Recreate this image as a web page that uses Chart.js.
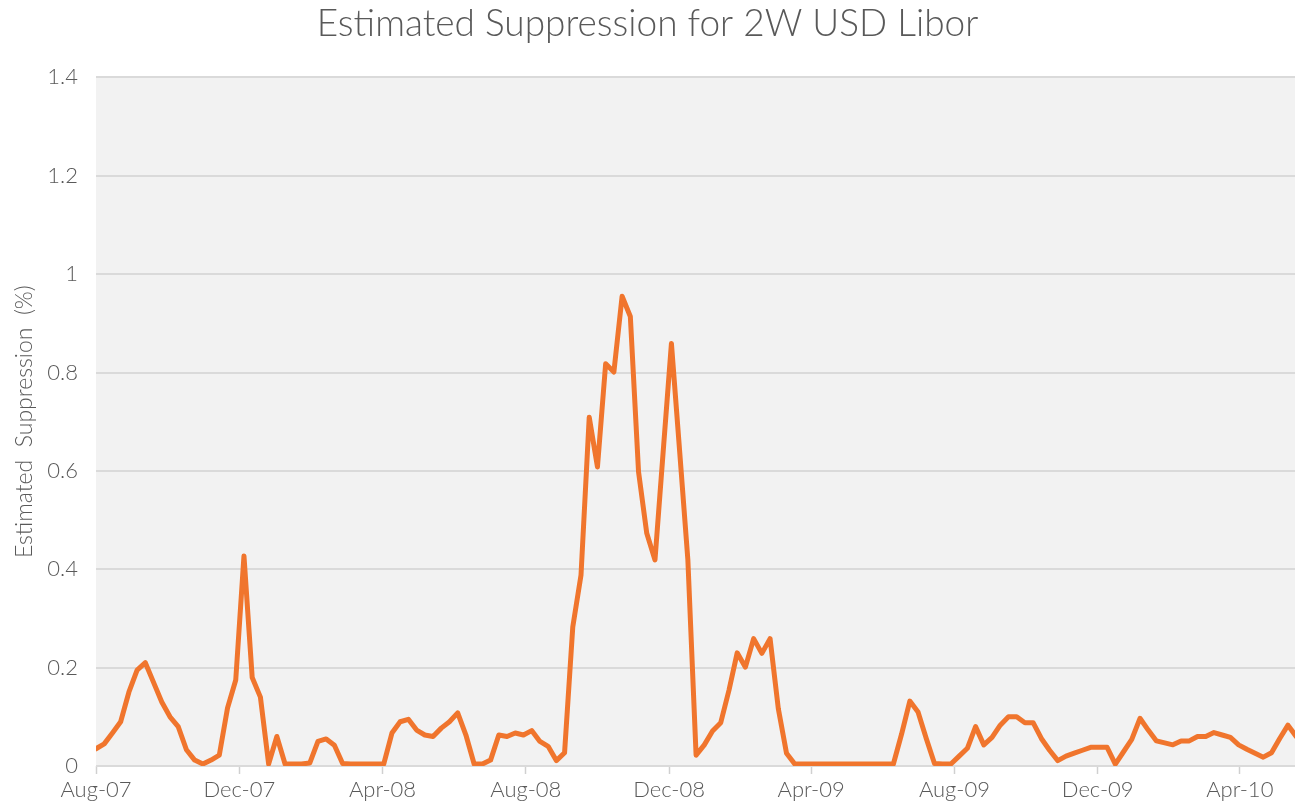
<!DOCTYPE html>
<html>
<head>
<meta charset="utf-8">
<title>Estimated Suppression for 2W USD Libor</title>
<script src="https://cdn.jsdelivr.net/npm/chart.js@4/dist/chart.umd.min.js"></script>
<style>
    html, body { margin: 0; padding: 0; background: #ffffff; }
    #chart { display: block; }
</style>
</head>
<body>
<canvas id="chart" width="1295" height="805"></canvas>
<script>
"use strict";

// Weekly estimates (%), first week starts Aug 1 2007
var startDate = [2007, 7, 1];
var daysPerPoint = 7;
var suppression = [
    0.035, 0.045, 0.067, 0.09, 0.15, 0.195, 0.21, 0.17, 0.13, 0.10,
    0.08, 0.033, 0.012, 0.004, 0.012, 0.022, 0.118, 0.175, 0.427, 0.18,
    0.14, 0.004, 0.06, 0.004, 0.004, 0.004, 0.006, 0.05, 0.055, 0.042,
    0.005, 0.004, 0.004, 0.004, 0.004, 0.004, 0.067, 0.09, 0.095, 0.073,
    0.063, 0.06, 0.077, 0.09, 0.108, 0.063, 0.004, 0.004, 0.012, 0.063,
    0.06, 0.067, 0.063, 0.072, 0.05, 0.04, 0.011, 0.027, 0.283, 0.388,
    0.709, 0.608, 0.818, 0.801, 0.955, 0.914, 0.598, 0.473, 0.419, 0.64,
    0.859, 0.64, 0.419, 0.022, 0.043, 0.071, 0.088, 0.154, 0.23, 0.201,
    0.259, 0.229, 0.259, 0.117, 0.026, 0.004, 0.004, 0.004, 0.004, 0.004,
    0.004, 0.004, 0.004, 0.004, 0.004, 0.004, 0.004, 0.004, 0.065, 0.132,
    0.11, 0.056, 0.005, 0.004, 0.004, 0.02, 0.036, 0.08, 0.043, 0.058,
    0.083, 0.1, 0.1, 0.088, 0.088, 0.056, 0.032, 0.011, 0.02, 0.026,
    0.032, 0.038, 0.038, 0.038, 0.004, 0.029, 0.054, 0.097, 0.073, 0.051,
    0.047, 0.043, 0.051, 0.051, 0.06, 0.06, 0.068, 0.063, 0.058, 0.043,
    0.034, 0.026, 0.018, 0.027, 0.056, 0.083, 0.06
];

// Axis labels
var tickLabels = ["Aug-07", "Dec-07", "Apr-08", "Aug-08", "Dec-08", "Apr-09", "Aug-09", "Dec-09", "Apr-10"];
var monthNames = ["Jan", "Feb", "Mar", "Apr", "May", "Jun", "Jul", "Aug", "Sep", "Oct", "Nov", "Dec"];
var axisEndDays = 1021;

var textColor = "#595959";
var fontFamily = "Lato, 'Open Sans', sans-serif";

function daysFromStart(label) {
    var parts = label.split("-");
    var month = monthNames.indexOf(parts[0]);
    var year = 2000 + parseInt(parts[1], 10);
    var start = Date.UTC(startDate[0], startDate[1], startDate[2]);
    return Math.round((Date.UTC(year, month, 1) - start) / 86400000);
}

var tickDays = tickLabels.map(daysFromStart);

// Build points
var points = [];
for (let i = 0; i < suppression.length; i++) {
    points.push({ x: i * daysPerPoint, y: suppression[i] });
}

// Gray plot background
var plotBackground = {
    id: "plotBackground",
    beforeDraw: function (chart) {
        var area = chart.chartArea;
        var ctx = chart.ctx;
        ctx.save();
        ctx.fillStyle = "#f2f2f2";
        ctx.fillRect(area.left, area.top, area.right - area.left, area.bottom - area.top);
        ctx.restore();
    }
};

var config = {
    type: "line",
    data: {
        datasets: [{
            label: "Estimated Suppression",
            data: points,
            borderColor: "rgb(240, 117, 45)",
            borderWidth: 5,
            borderJoinStyle: "round",
            borderCapStyle: "round",
            pointRadius: 0,
            tension: 0,
            fill: false
        }]
    },
    options: {
        responsive: false,
        animation: false,
        layout: { padding: 0 },
        plugins: {
            legend: { display: false },
            tooltip: { enabled: false },
            title: {
                display: true,
                text: "Estimated Suppression for 2W USD Libor",
                color: textColor,
                font: { family: fontFamily, size: 37, weight: "300" },
                padding: { top: 2, bottom: 31 }
            }
        },
        scales: {
            x: {
                type: "linear",
                min: 0,
                max: axisEndDays,
                afterBuildTicks: function (scale) {
                    scale.ticks = tickDays.map(function (d) { return { value: d }; });
                },
                afterFit: function (scale) {
                    scale.height = 39;
                },
                ticks: {
                    autoSkip: false,
                    maxRotation: 0,
                    padding: 3,
                    color: textColor,
                    font: { family: fontFamily, size: 22, weight: "300" },
                    callback: function (value) {
                        var i = tickDays.indexOf(value);
                        return i >= 0 ? tickLabels[i] : "";
                    }
                },
                grid: {
                    drawOnChartArea: false,
                    drawTicks: true,
                    tickLength: 8,
                    tickColor: "#d0d0d0",
                    tickWidth: 1.5
                },
                border: { display: false }
            },
            y: {
                min: 0,
                max: 1.4,
                afterFit: function (scale) {
                    scale.width = 96;
                },
                ticks: {
                    stepSize: 0.2,
                    padding: 18,
                    color: textColor,
                    font: { family: fontFamily, size: 22, weight: "300" },
                    callback: function (value) {
                        return String(Math.round(value * 10) / 10);
                    }
                },
                grid: {
                    color: "#dadada",
                    lineWidth: 2,
                    drawTicks: false
                },
                border: { display: false },
                title: {
                    display: true,
                    text: "Estimated  Suppression  (%)",
                    color: textColor,
                    font: { family: fontFamily, size: 23, weight: "300" },
                    padding: { top: 11, bottom: 0 }
                }
            }
        }
    },
    plugins: [plotBackground]
};

var ctx = document.getElementById("chart").getContext("2d");
var chart = new Chart(ctx, config);
</script>
</body>
</html>
